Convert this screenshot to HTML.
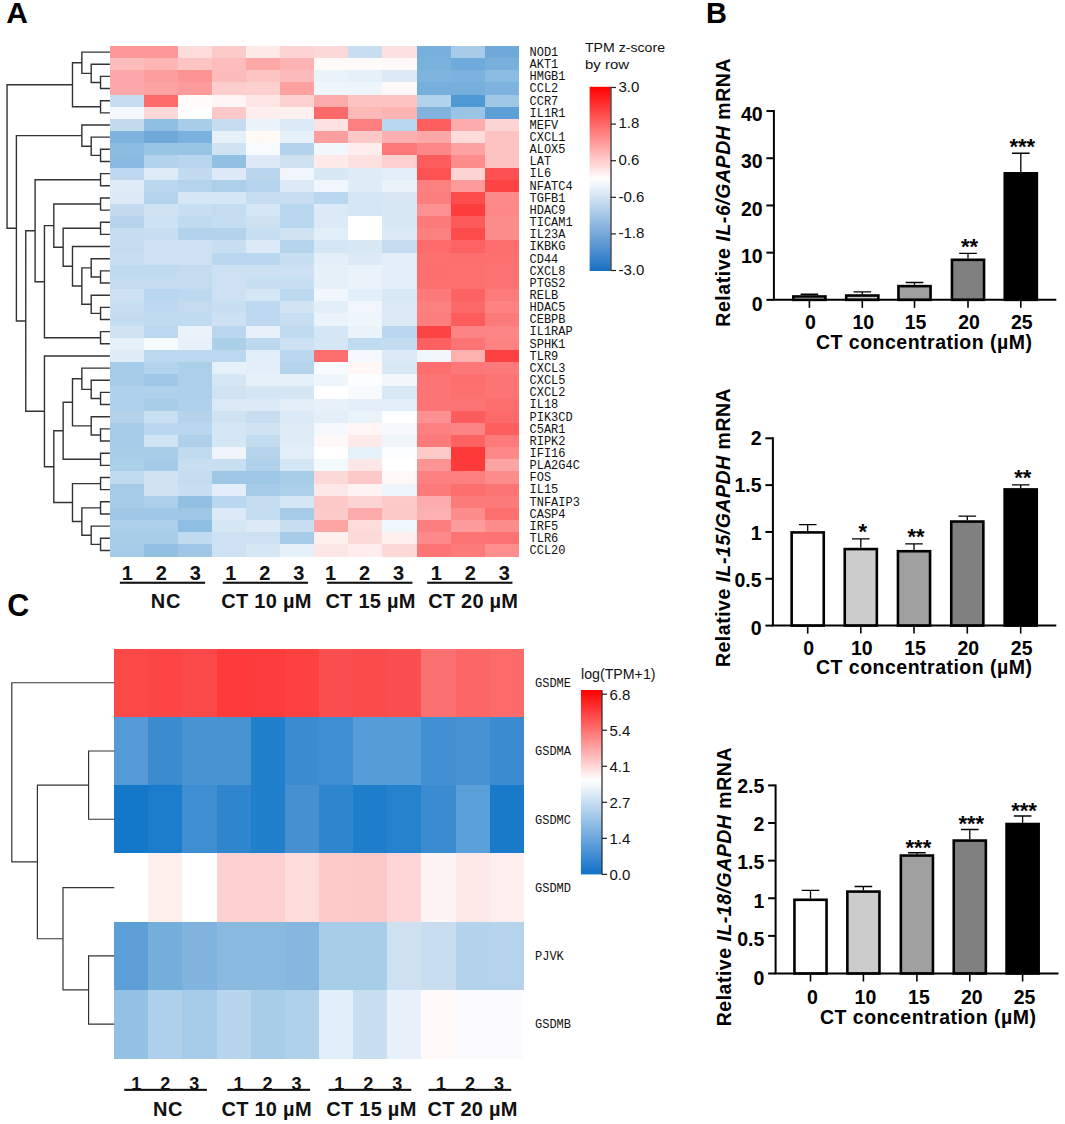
<!DOCTYPE html>
<html><head><meta charset="utf-8"><title>Figure</title>
<style>html,body{margin:0;padding:0;background:#fff;} svg{display:block;}</style></head>
<body><svg width="1065" height="1124" viewBox="0 0 1065 1124">
<rect width="1065" height="1124" fill="#fff"/>
<g shape-rendering="crispEdges"><rect x="109.80" y="46.00" width="34.48" height="12.55" fill="#fe9898"/><rect x="143.88" y="46.00" width="34.48" height="12.55" fill="#fe9898"/><rect x="177.96" y="46.00" width="34.48" height="12.55" fill="#fddcdc"/><rect x="212.04" y="46.00" width="34.48" height="12.55" fill="#fdcaca"/><rect x="246.12" y="46.00" width="34.48" height="12.55" fill="#ffeaea"/><rect x="280.20" y="46.00" width="34.48" height="12.55" fill="#fdd3d3"/><rect x="314.28" y="46.00" width="34.48" height="12.55" fill="#fdd8d8"/><rect x="348.36" y="46.00" width="34.48" height="12.55" fill="#c8def0"/><rect x="382.44" y="46.00" width="34.48" height="12.55" fill="#fde0e0"/><rect x="416.52" y="46.00" width="34.48" height="12.55" fill="#78b0dd"/><rect x="450.60" y="46.00" width="34.48" height="12.55" fill="#a8cce8"/><rect x="484.68" y="46.00" width="34.48" height="12.55" fill="#6ea9da"/><rect x="109.80" y="58.16" width="34.48" height="12.55" fill="#fdbcbc"/><rect x="143.88" y="58.16" width="34.48" height="12.55" fill="#fdb5b5"/><rect x="177.96" y="58.16" width="34.48" height="12.55" fill="#fdc4c4"/><rect x="212.04" y="58.16" width="34.48" height="12.55" fill="#fdbdbd"/><rect x="246.12" y="58.16" width="34.48" height="12.55" fill="#fda7a7"/><rect x="280.20" y="58.16" width="34.48" height="12.55" fill="#fdb3b3"/><rect x="314.28" y="58.16" width="34.48" height="12.55" fill="#fffafa"/><rect x="348.36" y="58.16" width="34.48" height="12.55" fill="#fffafa"/><rect x="382.44" y="58.16" width="34.48" height="12.55" fill="#fff8f8"/><rect x="416.52" y="58.16" width="34.48" height="12.55" fill="#79b1dd"/><rect x="450.60" y="58.16" width="34.48" height="12.55" fill="#6eaadb"/><rect x="484.68" y="58.16" width="34.48" height="12.55" fill="#78afdd"/><rect x="109.80" y="70.31" width="34.48" height="12.55" fill="#fda8a8"/><rect x="143.88" y="70.31" width="34.48" height="12.55" fill="#fd9e9e"/><rect x="177.96" y="70.31" width="34.48" height="12.55" fill="#fd9494"/><rect x="212.04" y="70.31" width="34.48" height="12.55" fill="#fdbcbc"/><rect x="246.12" y="70.31" width="34.48" height="12.55" fill="#fdc4c4"/><rect x="280.20" y="70.31" width="34.48" height="12.55" fill="#fdbaba"/><rect x="314.28" y="70.31" width="34.48" height="12.55" fill="#eaf3fa"/><rect x="348.36" y="70.31" width="34.48" height="12.55" fill="#e6f0f9"/><rect x="382.44" y="70.31" width="34.48" height="12.55" fill="#dbeaf6"/><rect x="416.52" y="70.31" width="34.48" height="12.55" fill="#7fb4df"/><rect x="450.60" y="70.31" width="34.48" height="12.55" fill="#7db2df"/><rect x="484.68" y="70.31" width="34.48" height="12.55" fill="#8bbce2"/><rect x="109.80" y="82.47" width="34.48" height="12.55" fill="#fda8a8"/><rect x="143.88" y="82.47" width="34.48" height="12.55" fill="#fda2a2"/><rect x="177.96" y="82.47" width="34.48" height="12.55" fill="#fd9b9b"/><rect x="212.04" y="82.47" width="34.48" height="12.55" fill="#fdcccc"/><rect x="246.12" y="82.47" width="34.48" height="12.55" fill="#fdd0d0"/><rect x="280.20" y="82.47" width="34.48" height="12.55" fill="#fda0a0"/><rect x="314.28" y="82.47" width="34.48" height="12.55" fill="#eef5fb"/><rect x="348.36" y="82.47" width="34.48" height="12.55" fill="#eef5fb"/><rect x="382.44" y="82.47" width="34.48" height="12.55" fill="#fff8f8"/><rect x="416.52" y="82.47" width="34.48" height="12.55" fill="#76aedc"/><rect x="450.60" y="82.47" width="34.48" height="12.55" fill="#76aedc"/><rect x="484.68" y="82.47" width="34.48" height="12.55" fill="#7fb3df"/><rect x="109.80" y="94.62" width="34.48" height="12.55" fill="#c5ddf0"/><rect x="143.88" y="94.62" width="34.48" height="12.55" fill="#fd6a6a"/><rect x="177.96" y="94.62" width="34.48" height="12.55" fill="#fffbfb"/><rect x="212.04" y="94.62" width="34.48" height="12.55" fill="#fff5f5"/><rect x="246.12" y="94.62" width="34.48" height="12.55" fill="#ffe6e6"/><rect x="280.20" y="94.62" width="34.48" height="12.55" fill="#fdd0d0"/><rect x="314.28" y="94.62" width="34.48" height="12.55" fill="#fdaaaa"/><rect x="348.36" y="94.62" width="34.48" height="12.55" fill="#fdc3c3"/><rect x="382.44" y="94.62" width="34.48" height="12.55" fill="#fdc3c3"/><rect x="416.52" y="94.62" width="34.48" height="12.55" fill="#b3d3ec"/><rect x="450.60" y="94.62" width="34.48" height="12.55" fill="#4e98d4"/><rect x="484.68" y="94.62" width="34.48" height="12.55" fill="#9ec7e6"/><rect x="109.80" y="106.78" width="34.48" height="12.55" fill="#f5f9fd"/><rect x="143.88" y="106.78" width="34.48" height="12.55" fill="#fdd8d8"/><rect x="177.96" y="106.78" width="34.48" height="12.55" fill="#ffffff"/><rect x="212.04" y="106.78" width="34.48" height="12.55" fill="#fdc8c8"/><rect x="246.12" y="106.78" width="34.48" height="12.55" fill="#ffeeee"/><rect x="280.20" y="106.78" width="34.48" height="12.55" fill="#fff0f0"/><rect x="314.28" y="106.78" width="34.48" height="12.55" fill="#fd6868"/><rect x="348.36" y="106.78" width="34.48" height="12.55" fill="#fdb8b8"/><rect x="382.44" y="106.78" width="34.48" height="12.55" fill="#fdb3b3"/><rect x="416.52" y="106.78" width="34.48" height="12.55" fill="#80b4df"/><rect x="450.60" y="106.78" width="34.48" height="12.55" fill="#99c4e5"/><rect x="484.68" y="106.78" width="34.48" height="12.55" fill="#5c9fd7"/><rect x="109.80" y="118.93" width="34.48" height="12.55" fill="#c2dbef"/><rect x="143.88" y="118.93" width="34.48" height="12.55" fill="#8ebfe3"/><rect x="177.96" y="118.93" width="34.48" height="12.55" fill="#a8cde8"/><rect x="212.04" y="118.93" width="34.48" height="12.55" fill="#c5dcf0"/><rect x="246.12" y="118.93" width="34.48" height="12.55" fill="#eaf3fa"/><rect x="280.20" y="118.93" width="34.48" height="12.55" fill="#dbeaf6"/><rect x="314.28" y="118.93" width="34.48" height="12.55" fill="#fee2e2"/><rect x="348.36" y="118.93" width="34.48" height="12.55" fill="#fd8080"/><rect x="382.44" y="118.93" width="34.48" height="12.55" fill="#b8d8ee"/><rect x="416.52" y="118.93" width="34.48" height="12.55" fill="#fd5e5e"/><rect x="450.60" y="118.93" width="34.48" height="12.55" fill="#fdacac"/><rect x="484.68" y="118.93" width="34.48" height="12.55" fill="#fdd4d4"/><rect x="109.80" y="131.08" width="34.48" height="12.55" fill="#7fb3df"/><rect x="143.88" y="131.08" width="34.48" height="12.55" fill="#6ea9da"/><rect x="177.96" y="131.08" width="34.48" height="12.55" fill="#7bb1de"/><rect x="212.04" y="131.08" width="34.48" height="12.55" fill="#e6f0f8"/><rect x="246.12" y="131.08" width="34.48" height="12.55" fill="#fffaf5"/><rect x="280.20" y="131.08" width="34.48" height="12.55" fill="#e6f1f9"/><rect x="314.28" y="131.08" width="34.48" height="12.55" fill="#fd9e9e"/><rect x="348.36" y="131.08" width="34.48" height="12.55" fill="#fdc8c8"/><rect x="382.44" y="131.08" width="34.48" height="12.55" fill="#fdb0b0"/><rect x="416.52" y="131.08" width="34.48" height="12.55" fill="#fda8a8"/><rect x="450.60" y="131.08" width="34.48" height="12.55" fill="#fedcdc"/><rect x="484.68" y="131.08" width="34.48" height="12.55" fill="#fdc3c3"/><rect x="109.80" y="143.24" width="34.48" height="12.55" fill="#8bbce2"/><rect x="143.88" y="143.24" width="34.48" height="12.55" fill="#99c5e5"/><rect x="177.96" y="143.24" width="34.48" height="12.55" fill="#99c5e5"/><rect x="212.04" y="143.24" width="34.48" height="12.55" fill="#d0e3f2"/><rect x="246.12" y="143.24" width="34.48" height="12.55" fill="#f8fbfe"/><rect x="280.20" y="143.24" width="34.48" height="12.55" fill="#b3d3ec"/><rect x="314.28" y="143.24" width="34.48" height="12.55" fill="#f2f7fc"/><rect x="348.36" y="143.24" width="34.48" height="12.55" fill="#ffeded"/><rect x="382.44" y="143.24" width="34.48" height="12.55" fill="#fd7878"/><rect x="416.52" y="143.24" width="34.48" height="12.55" fill="#fd8888"/><rect x="450.60" y="143.24" width="34.48" height="12.55" fill="#fda2a2"/><rect x="484.68" y="143.24" width="34.48" height="12.55" fill="#fdc3c3"/><rect x="109.80" y="155.39" width="34.48" height="12.55" fill="#88bbe1"/><rect x="143.88" y="155.39" width="34.48" height="12.55" fill="#b3d3ec"/><rect x="177.96" y="155.39" width="34.48" height="12.55" fill="#b8d6ed"/><rect x="212.04" y="155.39" width="34.48" height="12.55" fill="#92c0e3"/><rect x="246.12" y="155.39" width="34.48" height="12.55" fill="#dde9f6"/><rect x="280.20" y="155.39" width="34.48" height="12.55" fill="#cde1f1"/><rect x="314.28" y="155.39" width="34.48" height="12.55" fill="#ffeaea"/><rect x="348.36" y="155.39" width="34.48" height="12.55" fill="#fde0e0"/><rect x="382.44" y="155.39" width="34.48" height="12.55" fill="#fdcfcf"/><rect x="416.52" y="155.39" width="34.48" height="12.55" fill="#fd5c5c"/><rect x="450.60" y="155.39" width="34.48" height="12.55" fill="#fd8c8c"/><rect x="484.68" y="155.39" width="34.48" height="12.55" fill="#fdc2c2"/><rect x="109.80" y="167.55" width="34.48" height="12.55" fill="#bed9ef"/><rect x="143.88" y="167.55" width="34.48" height="12.55" fill="#deebf6"/><rect x="177.96" y="167.55" width="34.48" height="12.55" fill="#c3dbf0"/><rect x="212.04" y="167.55" width="34.48" height="12.55" fill="#dde9f6"/><rect x="246.12" y="167.55" width="34.48" height="12.55" fill="#b9d6ed"/><rect x="280.20" y="167.55" width="34.48" height="12.55" fill="#f0f6fb"/><rect x="314.28" y="167.55" width="34.48" height="12.55" fill="#d9e8f5"/><rect x="348.36" y="167.55" width="34.48" height="12.55" fill="#dfecf7"/><rect x="382.44" y="167.55" width="34.48" height="12.55" fill="#e3eef8"/><rect x="416.52" y="167.55" width="34.48" height="12.55" fill="#fd5252"/><rect x="450.60" y="167.55" width="34.48" height="12.55" fill="#fdd3d3"/><rect x="484.68" y="167.55" width="34.48" height="12.55" fill="#fd5050"/><rect x="109.80" y="179.70" width="34.48" height="12.55" fill="#dfecf7"/><rect x="143.88" y="179.70" width="34.48" height="12.55" fill="#b9d7ee"/><rect x="177.96" y="179.70" width="34.48" height="12.55" fill="#b3d4ec"/><rect x="212.04" y="179.70" width="34.48" height="12.55" fill="#acd0ea"/><rect x="246.12" y="179.70" width="34.48" height="12.55" fill="#b3d4ec"/><rect x="280.20" y="179.70" width="34.48" height="12.55" fill="#dde9f6"/><rect x="314.28" y="179.70" width="34.48" height="12.55" fill="#f0f6fc"/><rect x="348.36" y="179.70" width="34.48" height="12.55" fill="#dfecf7"/><rect x="382.44" y="179.70" width="34.48" height="12.55" fill="#eaf3fa"/><rect x="416.52" y="179.70" width="34.48" height="12.55" fill="#fd8080"/><rect x="450.60" y="179.70" width="34.48" height="12.55" fill="#fd9a9a"/><rect x="484.68" y="179.70" width="34.48" height="12.55" fill="#fd4444"/><rect x="109.80" y="191.86" width="34.48" height="12.55" fill="#dce9f6"/><rect x="143.88" y="191.86" width="34.48" height="12.55" fill="#b3d4ec"/><rect x="177.96" y="191.86" width="34.48" height="12.55" fill="#d5e6f4"/><rect x="212.04" y="191.86" width="34.48" height="12.55" fill="#d5e6f4"/><rect x="246.12" y="191.86" width="34.48" height="12.55" fill="#c8def0"/><rect x="280.20" y="191.86" width="34.48" height="12.55" fill="#c8def0"/><rect x="314.28" y="191.86" width="34.48" height="12.55" fill="#b9d7ee"/><rect x="348.36" y="191.86" width="34.48" height="12.55" fill="#d5e6f4"/><rect x="382.44" y="191.86" width="34.48" height="12.55" fill="#d9e7f5"/><rect x="416.52" y="191.86" width="34.48" height="12.55" fill="#fd7e7e"/><rect x="450.60" y="191.86" width="34.48" height="12.55" fill="#fd4c4c"/><rect x="484.68" y="191.86" width="34.48" height="12.55" fill="#fd8a8a"/><rect x="109.80" y="204.01" width="34.48" height="12.55" fill="#c3dbef"/><rect x="143.88" y="204.01" width="34.48" height="12.55" fill="#d0e3f2"/><rect x="177.96" y="204.01" width="34.48" height="12.55" fill="#c8def1"/><rect x="212.04" y="204.01" width="34.48" height="12.55" fill="#c3dcf0"/><rect x="246.12" y="204.01" width="34.48" height="12.55" fill="#d5e6f4"/><rect x="280.20" y="204.01" width="34.48" height="12.55" fill="#b9d7ee"/><rect x="314.28" y="204.01" width="34.48" height="12.55" fill="#dce9f6"/><rect x="348.36" y="204.01" width="34.48" height="12.55" fill="#d5e6f4"/><rect x="382.44" y="204.01" width="34.48" height="12.55" fill="#d9e8f5"/><rect x="416.52" y="204.01" width="34.48" height="12.55" fill="#fd9090"/><rect x="450.60" y="204.01" width="34.48" height="12.55" fill="#fd3c3c"/><rect x="484.68" y="204.01" width="34.48" height="12.55" fill="#fd8888"/><rect x="109.80" y="216.17" width="34.48" height="12.55" fill="#b5d4ec"/><rect x="143.88" y="216.17" width="34.48" height="12.55" fill="#cde2f2"/><rect x="177.96" y="216.17" width="34.48" height="12.55" fill="#c0daef"/><rect x="212.04" y="216.17" width="34.48" height="12.55" fill="#c5ddf0"/><rect x="246.12" y="216.17" width="34.48" height="12.55" fill="#cde1f1"/><rect x="280.20" y="216.17" width="34.48" height="12.55" fill="#b9d7ee"/><rect x="314.28" y="216.17" width="34.48" height="12.55" fill="#dce9f6"/><rect x="348.36" y="216.17" width="34.48" height="12.55" fill="#ffffff"/><rect x="382.44" y="216.17" width="34.48" height="12.55" fill="#d9e8f5"/><rect x="416.52" y="216.17" width="34.48" height="12.55" fill="#fd7a7a"/><rect x="450.60" y="216.17" width="34.48" height="12.55" fill="#fd5a5a"/><rect x="484.68" y="216.17" width="34.48" height="12.55" fill="#fd8c8c"/><rect x="109.80" y="228.32" width="34.48" height="12.55" fill="#c5ddf0"/><rect x="143.88" y="228.32" width="34.48" height="12.55" fill="#c8dff1"/><rect x="177.96" y="228.32" width="34.48" height="12.55" fill="#b3d3ec"/><rect x="212.04" y="228.32" width="34.48" height="12.55" fill="#b3d3ec"/><rect x="246.12" y="228.32" width="34.48" height="12.55" fill="#c8def1"/><rect x="280.20" y="228.32" width="34.48" height="12.55" fill="#d0e3f2"/><rect x="314.28" y="228.32" width="34.48" height="12.55" fill="#e2eef8"/><rect x="348.36" y="228.32" width="34.48" height="12.55" fill="#ffffff"/><rect x="382.44" y="228.32" width="34.48" height="12.55" fill="#dce9f6"/><rect x="416.52" y="228.32" width="34.48" height="12.55" fill="#fd8080"/><rect x="450.60" y="228.32" width="34.48" height="12.55" fill="#fd4c4c"/><rect x="484.68" y="228.32" width="34.48" height="12.55" fill="#fd8c8c"/><rect x="109.80" y="240.48" width="34.48" height="12.55" fill="#c5ddf0"/><rect x="143.88" y="240.48" width="34.48" height="12.55" fill="#cde1f2"/><rect x="177.96" y="240.48" width="34.48" height="12.55" fill="#cde1f2"/><rect x="212.04" y="240.48" width="34.48" height="12.55" fill="#c8def1"/><rect x="246.12" y="240.48" width="34.48" height="12.55" fill="#dce9f6"/><rect x="280.20" y="240.48" width="34.48" height="12.55" fill="#b5d5ed"/><rect x="314.28" y="240.48" width="34.48" height="12.55" fill="#d5e6f4"/><rect x="348.36" y="240.48" width="34.48" height="12.55" fill="#d9e8f5"/><rect x="382.44" y="240.48" width="34.48" height="12.55" fill="#c3dcf0"/><rect x="416.52" y="240.48" width="34.48" height="12.55" fill="#fd6b6b"/><rect x="450.60" y="240.48" width="34.48" height="12.55" fill="#fd6262"/><rect x="484.68" y="240.48" width="34.48" height="12.55" fill="#fd6e6e"/><rect x="109.80" y="252.63" width="34.48" height="12.55" fill="#c8def1"/><rect x="143.88" y="252.63" width="34.48" height="12.55" fill="#cde1f2"/><rect x="177.96" y="252.63" width="34.48" height="12.55" fill="#cde1f2"/><rect x="212.04" y="252.63" width="34.48" height="12.55" fill="#b9d7ee"/><rect x="246.12" y="252.63" width="34.48" height="12.55" fill="#b9d7ee"/><rect x="280.20" y="252.63" width="34.48" height="12.55" fill="#c8def1"/><rect x="314.28" y="252.63" width="34.48" height="12.55" fill="#e3eef8"/><rect x="348.36" y="252.63" width="34.48" height="12.55" fill="#dce9f6"/><rect x="382.44" y="252.63" width="34.48" height="12.55" fill="#e3eef8"/><rect x="416.52" y="252.63" width="34.48" height="12.55" fill="#fd7070"/><rect x="450.60" y="252.63" width="34.48" height="12.55" fill="#fd6e6e"/><rect x="484.68" y="252.63" width="34.48" height="12.55" fill="#fd7070"/><rect x="109.80" y="264.79" width="34.48" height="12.55" fill="#c0daef"/><rect x="143.88" y="264.79" width="34.48" height="12.55" fill="#c0daef"/><rect x="177.96" y="264.79" width="34.48" height="12.55" fill="#c3dcf0"/><rect x="212.04" y="264.79" width="34.48" height="12.55" fill="#cde1f2"/><rect x="246.12" y="264.79" width="34.48" height="12.55" fill="#cde1f2"/><rect x="280.20" y="264.79" width="34.48" height="12.55" fill="#cde1f2"/><rect x="314.28" y="264.79" width="34.48" height="12.55" fill="#e6f0f9"/><rect x="348.36" y="264.79" width="34.48" height="12.55" fill="#eaf3fa"/><rect x="382.44" y="264.79" width="34.48" height="12.55" fill="#e3eef8"/><rect x="416.52" y="264.79" width="34.48" height="12.55" fill="#fd6e6e"/><rect x="450.60" y="264.79" width="34.48" height="12.55" fill="#fd7070"/><rect x="484.68" y="264.79" width="34.48" height="12.55" fill="#fd7272"/><rect x="109.80" y="276.94" width="34.48" height="12.55" fill="#c3dcf0"/><rect x="143.88" y="276.94" width="34.48" height="12.55" fill="#c3dcf0"/><rect x="177.96" y="276.94" width="34.48" height="12.55" fill="#c3dcf0"/><rect x="212.04" y="276.94" width="34.48" height="12.55" fill="#cde1f2"/><rect x="246.12" y="276.94" width="34.48" height="12.55" fill="#c8dff1"/><rect x="280.20" y="276.94" width="34.48" height="12.55" fill="#c8def1"/><rect x="314.28" y="276.94" width="34.48" height="12.55" fill="#e6f0f9"/><rect x="348.36" y="276.94" width="34.48" height="12.55" fill="#eaf3fa"/><rect x="382.44" y="276.94" width="34.48" height="12.55" fill="#e3eef8"/><rect x="416.52" y="276.94" width="34.48" height="12.55" fill="#fd7070"/><rect x="450.60" y="276.94" width="34.48" height="12.55" fill="#fd7070"/><rect x="484.68" y="276.94" width="34.48" height="12.55" fill="#fd7373"/><rect x="109.80" y="289.10" width="34.48" height="12.55" fill="#cde1f2"/><rect x="143.88" y="289.10" width="34.48" height="12.55" fill="#b9d7ee"/><rect x="177.96" y="289.10" width="34.48" height="12.55" fill="#bdd9ef"/><rect x="212.04" y="289.10" width="34.48" height="12.55" fill="#cde1f2"/><rect x="246.12" y="289.10" width="34.48" height="12.55" fill="#d5e6f4"/><rect x="280.20" y="289.10" width="34.48" height="12.55" fill="#bdd9ef"/><rect x="314.28" y="289.10" width="34.48" height="12.55" fill="#f0f6fc"/><rect x="348.36" y="289.10" width="34.48" height="12.55" fill="#e2eef8"/><rect x="382.44" y="289.10" width="34.48" height="12.55" fill="#d9e8f5"/><rect x="416.52" y="289.10" width="34.48" height="12.55" fill="#fd7a7a"/><rect x="450.60" y="289.10" width="34.48" height="12.55" fill="#fd6262"/><rect x="484.68" y="289.10" width="34.48" height="12.55" fill="#fd7a7a"/><rect x="109.80" y="301.25" width="34.48" height="12.55" fill="#c8def1"/><rect x="143.88" y="301.25" width="34.48" height="12.55" fill="#bed9ef"/><rect x="177.96" y="301.25" width="34.48" height="12.55" fill="#c3dcf0"/><rect x="212.04" y="301.25" width="34.48" height="12.55" fill="#c8def1"/><rect x="246.12" y="301.25" width="34.48" height="12.55" fill="#bed9ef"/><rect x="280.20" y="301.25" width="34.48" height="12.55" fill="#d2e4f3"/><rect x="314.28" y="301.25" width="34.48" height="12.55" fill="#e3eef8"/><rect x="348.36" y="301.25" width="34.48" height="12.55" fill="#f0f6fc"/><rect x="382.44" y="301.25" width="34.48" height="12.55" fill="#dce9f6"/><rect x="416.52" y="301.25" width="34.48" height="12.55" fill="#fd8080"/><rect x="450.60" y="301.25" width="34.48" height="12.55" fill="#fd6868"/><rect x="484.68" y="301.25" width="34.48" height="12.55" fill="#fd8282"/><rect x="109.80" y="313.41" width="34.48" height="12.55" fill="#c3dcf0"/><rect x="143.88" y="313.41" width="34.48" height="12.55" fill="#c0daef"/><rect x="177.96" y="313.41" width="34.48" height="12.55" fill="#c0daef"/><rect x="212.04" y="313.41" width="34.48" height="12.55" fill="#cde1f2"/><rect x="246.12" y="313.41" width="34.48" height="12.55" fill="#bed9ef"/><rect x="280.20" y="313.41" width="34.48" height="12.55" fill="#c8def1"/><rect x="314.28" y="313.41" width="34.48" height="12.55" fill="#eaf2fa"/><rect x="348.36" y="313.41" width="34.48" height="12.55" fill="#eef5fb"/><rect x="382.44" y="313.41" width="34.48" height="12.55" fill="#dce9f6"/><rect x="416.52" y="313.41" width="34.48" height="12.55" fill="#fd7e7e"/><rect x="450.60" y="313.41" width="34.48" height="12.55" fill="#fd5c5c"/><rect x="484.68" y="313.41" width="34.48" height="12.55" fill="#fd7a7a"/><rect x="109.80" y="325.56" width="34.48" height="12.55" fill="#d0e3f2"/><rect x="143.88" y="325.56" width="34.48" height="12.55" fill="#bcd8ee"/><rect x="177.96" y="325.56" width="34.48" height="12.55" fill="#eaf2fa"/><rect x="212.04" y="325.56" width="34.48" height="12.55" fill="#b9d7ee"/><rect x="246.12" y="325.56" width="34.48" height="12.55" fill="#e8f0f9"/><rect x="280.20" y="325.56" width="34.48" height="12.55" fill="#c0daef"/><rect x="314.28" y="325.56" width="34.48" height="12.55" fill="#d5e6f4"/><rect x="348.36" y="325.56" width="34.48" height="12.55" fill="#eaf3fa"/><rect x="382.44" y="325.56" width="34.48" height="12.55" fill="#b9d7ee"/><rect x="416.52" y="325.56" width="34.48" height="12.55" fill="#fd4444"/><rect x="450.60" y="325.56" width="34.48" height="12.55" fill="#fd8484"/><rect x="484.68" y="325.56" width="34.48" height="12.55" fill="#fd8585"/><rect x="109.80" y="337.72" width="34.48" height="12.55" fill="#e6f0f9"/><rect x="143.88" y="337.72" width="34.48" height="12.55" fill="#f8fbfe"/><rect x="177.96" y="337.72" width="34.48" height="12.55" fill="#e8f1fa"/><rect x="212.04" y="337.72" width="34.48" height="12.55" fill="#acd0ea"/><rect x="246.12" y="337.72" width="34.48" height="12.55" fill="#bcd8ee"/><rect x="280.20" y="337.72" width="34.48" height="12.55" fill="#cde1f2"/><rect x="314.28" y="337.72" width="34.48" height="12.55" fill="#d5e6f4"/><rect x="348.36" y="337.72" width="34.48" height="12.55" fill="#c0daef"/><rect x="382.44" y="337.72" width="34.48" height="12.55" fill="#c3dcf0"/><rect x="416.52" y="337.72" width="34.48" height="12.55" fill="#fd6060"/><rect x="450.60" y="337.72" width="34.48" height="12.55" fill="#fd7474"/><rect x="484.68" y="337.72" width="34.48" height="12.55" fill="#fd8282"/><rect x="109.80" y="349.88" width="34.48" height="12.55" fill="#dfecf7"/><rect x="143.88" y="349.88" width="34.48" height="12.55" fill="#bcd8ee"/><rect x="177.96" y="349.88" width="34.48" height="12.55" fill="#bcd8ee"/><rect x="212.04" y="349.88" width="34.48" height="12.55" fill="#bcd8ee"/><rect x="246.12" y="349.88" width="34.48" height="12.55" fill="#e2eef8"/><rect x="280.20" y="349.88" width="34.48" height="12.55" fill="#b9d7ee"/><rect x="314.28" y="349.88" width="34.48" height="12.55" fill="#fd6e6e"/><rect x="348.36" y="349.88" width="34.48" height="12.55" fill="#f5f9fd"/><rect x="382.44" y="349.88" width="34.48" height="12.55" fill="#dce9f6"/><rect x="416.52" y="349.88" width="34.48" height="12.55" fill="#f2f7fc"/><rect x="450.60" y="349.88" width="34.48" height="12.55" fill="#fdb0b0"/><rect x="484.68" y="349.88" width="34.48" height="12.55" fill="#fd4040"/><rect x="109.80" y="362.03" width="34.48" height="12.55" fill="#a5cbe8"/><rect x="143.88" y="362.03" width="34.48" height="12.55" fill="#b3d4ec"/><rect x="177.96" y="362.03" width="34.48" height="12.55" fill="#acd0ea"/><rect x="212.04" y="362.03" width="34.48" height="12.55" fill="#e6f0f9"/><rect x="246.12" y="362.03" width="34.48" height="12.55" fill="#e3eef8"/><rect x="280.20" y="362.03" width="34.48" height="12.55" fill="#b3d4ec"/><rect x="314.28" y="362.03" width="34.48" height="12.55" fill="#f8fbfe"/><rect x="348.36" y="362.03" width="34.48" height="12.55" fill="#fff6f5"/><rect x="382.44" y="362.03" width="34.48" height="12.55" fill="#d9e8f5"/><rect x="416.52" y="362.03" width="34.48" height="12.55" fill="#fd6e6e"/><rect x="450.60" y="362.03" width="34.48" height="12.55" fill="#fd7878"/><rect x="484.68" y="362.03" width="34.48" height="12.55" fill="#fd7a7a"/><rect x="109.80" y="374.19" width="34.48" height="12.55" fill="#a5cbe8"/><rect x="143.88" y="374.19" width="34.48" height="12.55" fill="#a0c7e6"/><rect x="177.96" y="374.19" width="34.48" height="12.55" fill="#acd0ea"/><rect x="212.04" y="374.19" width="34.48" height="12.55" fill="#d5e6f4"/><rect x="246.12" y="374.19" width="34.48" height="12.55" fill="#e6f0f9"/><rect x="280.20" y="374.19" width="34.48" height="12.55" fill="#e6f0f9"/><rect x="314.28" y="374.19" width="34.48" height="12.55" fill="#eef5fb"/><rect x="348.36" y="374.19" width="34.48" height="12.55" fill="#fcfdff"/><rect x="382.44" y="374.19" width="34.48" height="12.55" fill="#f2f7fc"/><rect x="416.52" y="374.19" width="34.48" height="12.55" fill="#fd7474"/><rect x="450.60" y="374.19" width="34.48" height="12.55" fill="#fd6e6e"/><rect x="484.68" y="374.19" width="34.48" height="12.55" fill="#fd7474"/><rect x="109.80" y="386.34" width="34.48" height="12.55" fill="#b0d1eb"/><rect x="143.88" y="386.34" width="34.48" height="12.55" fill="#b0d1eb"/><rect x="177.96" y="386.34" width="34.48" height="12.55" fill="#afd0eb"/><rect x="212.04" y="386.34" width="34.48" height="12.55" fill="#d0e3f2"/><rect x="246.12" y="386.34" width="34.48" height="12.55" fill="#d5e6f4"/><rect x="280.20" y="386.34" width="34.48" height="12.55" fill="#d5e6f4"/><rect x="314.28" y="386.34" width="34.48" height="12.55" fill="#ffffff"/><rect x="348.36" y="386.34" width="34.48" height="12.55" fill="#f8fbfe"/><rect x="382.44" y="386.34" width="34.48" height="12.55" fill="#d9e8f5"/><rect x="416.52" y="386.34" width="34.48" height="12.55" fill="#fd7474"/><rect x="450.60" y="386.34" width="34.48" height="12.55" fill="#fd7070"/><rect x="484.68" y="386.34" width="34.48" height="12.55" fill="#fd7474"/><rect x="109.80" y="398.50" width="34.48" height="12.55" fill="#b0d1eb"/><rect x="143.88" y="398.50" width="34.48" height="12.55" fill="#a8cde9"/><rect x="177.96" y="398.50" width="34.48" height="12.55" fill="#b0d1eb"/><rect x="212.04" y="398.50" width="34.48" height="12.55" fill="#dce9f6"/><rect x="246.12" y="398.50" width="34.48" height="12.55" fill="#dce9f6"/><rect x="280.20" y="398.50" width="34.48" height="12.55" fill="#e3eef8"/><rect x="314.28" y="398.50" width="34.48" height="12.55" fill="#e8f1fa"/><rect x="348.36" y="398.50" width="34.48" height="12.55" fill="#e3eef8"/><rect x="382.44" y="398.50" width="34.48" height="12.55" fill="#e3eef8"/><rect x="416.52" y="398.50" width="34.48" height="12.55" fill="#fd7474"/><rect x="450.60" y="398.50" width="34.48" height="12.55" fill="#fd7474"/><rect x="484.68" y="398.50" width="34.48" height="12.55" fill="#fd6e6e"/><rect x="109.80" y="410.65" width="34.48" height="12.55" fill="#b5d4ec"/><rect x="143.88" y="410.65" width="34.48" height="12.55" fill="#c8def1"/><rect x="177.96" y="410.65" width="34.48" height="12.55" fill="#b5d4ec"/><rect x="212.04" y="410.65" width="34.48" height="12.55" fill="#d0e3f2"/><rect x="246.12" y="410.65" width="34.48" height="12.55" fill="#c8def0"/><rect x="280.20" y="410.65" width="34.48" height="12.55" fill="#dce9f6"/><rect x="314.28" y="410.65" width="34.48" height="12.55" fill="#e3eef8"/><rect x="348.36" y="410.65" width="34.48" height="12.55" fill="#eaf3fa"/><rect x="382.44" y="410.65" width="34.48" height="12.55" fill="#ffffff"/><rect x="416.52" y="410.65" width="34.48" height="12.55" fill="#fd9090"/><rect x="450.60" y="410.65" width="34.48" height="12.55" fill="#fd5c5c"/><rect x="484.68" y="410.65" width="34.48" height="12.55" fill="#fd6a6a"/><rect x="109.80" y="422.81" width="34.48" height="12.55" fill="#a5cbe8"/><rect x="143.88" y="422.81" width="34.48" height="12.55" fill="#b9d7ee"/><rect x="177.96" y="422.81" width="34.48" height="12.55" fill="#b9d7ee"/><rect x="212.04" y="422.81" width="34.48" height="12.55" fill="#d5e6f4"/><rect x="246.12" y="422.81" width="34.48" height="12.55" fill="#d0e3f2"/><rect x="280.20" y="422.81" width="34.48" height="12.55" fill="#dfecf7"/><rect x="314.28" y="422.81" width="34.48" height="12.55" fill="#f5f9fd"/><rect x="348.36" y="422.81" width="34.48" height="12.55" fill="#fff6f5"/><rect x="382.44" y="422.81" width="34.48" height="12.55" fill="#f5f9fd"/><rect x="416.52" y="422.81" width="34.48" height="12.55" fill="#fd8080"/><rect x="450.60" y="422.81" width="34.48" height="12.55" fill="#fd8484"/><rect x="484.68" y="422.81" width="34.48" height="12.55" fill="#fd5e5e"/><rect x="109.80" y="434.96" width="34.48" height="12.55" fill="#a5cbe8"/><rect x="143.88" y="434.96" width="34.48" height="12.55" fill="#d0e3f2"/><rect x="177.96" y="434.96" width="34.48" height="12.55" fill="#afd0eb"/><rect x="212.04" y="434.96" width="34.48" height="12.55" fill="#d5e6f4"/><rect x="246.12" y="434.96" width="34.48" height="12.55" fill="#c3dcf0"/><rect x="280.20" y="434.96" width="34.48" height="12.55" fill="#dfecf7"/><rect x="314.28" y="434.96" width="34.48" height="12.55" fill="#fff8f8"/><rect x="348.36" y="434.96" width="34.48" height="12.55" fill="#ffeaea"/><rect x="382.44" y="434.96" width="34.48" height="12.55" fill="#eef5fb"/><rect x="416.52" y="434.96" width="34.48" height="12.55" fill="#fd7a7a"/><rect x="450.60" y="434.96" width="34.48" height="12.55" fill="#fd6262"/><rect x="484.68" y="434.96" width="34.48" height="12.55" fill="#fd7a7a"/><rect x="109.80" y="447.11" width="34.48" height="12.55" fill="#a8cde8"/><rect x="143.88" y="447.11" width="34.48" height="12.55" fill="#a8cde8"/><rect x="177.96" y="447.11" width="34.48" height="12.55" fill="#c0daef"/><rect x="212.04" y="447.11" width="34.48" height="12.55" fill="#eef4fa"/><rect x="246.12" y="447.11" width="34.48" height="12.55" fill="#b5d4ec"/><rect x="280.20" y="447.11" width="34.48" height="12.55" fill="#e3eef8"/><rect x="314.28" y="447.11" width="34.48" height="12.55" fill="#ffffff"/><rect x="348.36" y="447.11" width="34.48" height="12.55" fill="#e6f2fa"/><rect x="382.44" y="447.11" width="34.48" height="12.55" fill="#fbfdff"/><rect x="416.52" y="447.11" width="34.48" height="12.55" fill="#fdcaca"/><rect x="450.60" y="447.11" width="34.48" height="12.55" fill="#fd3838"/><rect x="484.68" y="447.11" width="34.48" height="12.55" fill="#fd8888"/><rect x="109.80" y="459.27" width="34.48" height="12.55" fill="#acd0ea"/><rect x="143.88" y="459.27" width="34.48" height="12.55" fill="#a5cbe8"/><rect x="177.96" y="459.27" width="34.48" height="12.55" fill="#c8def1"/><rect x="212.04" y="459.27" width="34.48" height="12.55" fill="#c8def1"/><rect x="246.12" y="459.27" width="34.48" height="12.55" fill="#b0d1eb"/><rect x="280.20" y="459.27" width="34.48" height="12.55" fill="#d5e6f4"/><rect x="314.28" y="459.27" width="34.48" height="12.55" fill="#f2f9fc"/><rect x="348.36" y="459.27" width="34.48" height="12.55" fill="#fde6e6"/><rect x="382.44" y="459.27" width="34.48" height="12.55" fill="#ffffff"/><rect x="416.52" y="459.27" width="34.48" height="12.55" fill="#fd9494"/><rect x="450.60" y="459.27" width="34.48" height="12.55" fill="#fd3a3a"/><rect x="484.68" y="459.27" width="34.48" height="12.55" fill="#fda4a4"/><rect x="109.80" y="471.42" width="34.48" height="12.55" fill="#c0daef"/><rect x="143.88" y="471.42" width="34.48" height="12.55" fill="#d0e3f2"/><rect x="177.96" y="471.42" width="34.48" height="12.55" fill="#c3dcf0"/><rect x="212.04" y="471.42" width="34.48" height="12.55" fill="#9ec7e6"/><rect x="246.12" y="471.42" width="34.48" height="12.55" fill="#9ec7e6"/><rect x="280.20" y="471.42" width="34.48" height="12.55" fill="#a8cde8"/><rect x="314.28" y="471.42" width="34.48" height="12.55" fill="#fdd8d8"/><rect x="348.36" y="471.42" width="34.48" height="12.55" fill="#fdc8c8"/><rect x="382.44" y="471.42" width="34.48" height="12.55" fill="#fff8f8"/><rect x="416.52" y="471.42" width="34.48" height="12.55" fill="#fd8080"/><rect x="450.60" y="471.42" width="34.48" height="12.55" fill="#fd8080"/><rect x="484.68" y="471.42" width="34.48" height="12.55" fill="#fd8c8c"/><rect x="109.80" y="483.58" width="34.48" height="12.55" fill="#a5cbe8"/><rect x="143.88" y="483.58" width="34.48" height="12.55" fill="#d0e3f2"/><rect x="177.96" y="483.58" width="34.48" height="12.55" fill="#c8def1"/><rect x="212.04" y="483.58" width="34.48" height="12.55" fill="#e3eef8"/><rect x="246.12" y="483.58" width="34.48" height="12.55" fill="#a5cbe8"/><rect x="280.20" y="483.58" width="34.48" height="12.55" fill="#acd0ea"/><rect x="314.28" y="483.58" width="34.48" height="12.55" fill="#fde8e8"/><rect x="348.36" y="483.58" width="34.48" height="12.55" fill="#fff2f2"/><rect x="382.44" y="483.58" width="34.48" height="12.55" fill="#eef6fc"/><rect x="416.52" y="483.58" width="34.48" height="12.55" fill="#fd7a7a"/><rect x="450.60" y="483.58" width="34.48" height="12.55" fill="#fd6e6e"/><rect x="484.68" y="483.58" width="34.48" height="12.55" fill="#fd7474"/><rect x="109.80" y="495.73" width="34.48" height="12.55" fill="#a5cbe8"/><rect x="143.88" y="495.73" width="34.48" height="12.55" fill="#acd0ea"/><rect x="177.96" y="495.73" width="34.48" height="12.55" fill="#92c0e3"/><rect x="212.04" y="495.73" width="34.48" height="12.55" fill="#b9d7ee"/><rect x="246.12" y="495.73" width="34.48" height="12.55" fill="#c3dcf0"/><rect x="280.20" y="495.73" width="34.48" height="12.55" fill="#d5e6f4"/><rect x="314.28" y="495.73" width="34.48" height="12.55" fill="#fdc8c8"/><rect x="348.36" y="495.73" width="34.48" height="12.55" fill="#fdd4d4"/><rect x="382.44" y="495.73" width="34.48" height="12.55" fill="#fdcaca"/><rect x="416.52" y="495.73" width="34.48" height="12.55" fill="#fdacac"/><rect x="450.60" y="495.73" width="34.48" height="12.55" fill="#fd7a7a"/><rect x="484.68" y="495.73" width="34.48" height="12.55" fill="#fd7a7a"/><rect x="109.80" y="507.89" width="34.48" height="12.55" fill="#a0c8e6"/><rect x="143.88" y="507.89" width="34.48" height="12.55" fill="#a0c8e6"/><rect x="177.96" y="507.89" width="34.48" height="12.55" fill="#9ec7e6"/><rect x="212.04" y="507.89" width="34.48" height="12.55" fill="#dce9f6"/><rect x="246.12" y="507.89" width="34.48" height="12.55" fill="#c3dcf0"/><rect x="280.20" y="507.89" width="34.48" height="12.55" fill="#a5cbe8"/><rect x="314.28" y="507.89" width="34.48" height="12.55" fill="#fdcaca"/><rect x="348.36" y="507.89" width="34.48" height="12.55" fill="#fdaaaa"/><rect x="382.44" y="507.89" width="34.48" height="12.55" fill="#fdc8c8"/><rect x="416.52" y="507.89" width="34.48" height="12.55" fill="#fdb0b0"/><rect x="450.60" y="507.89" width="34.48" height="12.55" fill="#fd8c8c"/><rect x="484.68" y="507.89" width="34.48" height="12.55" fill="#fd7070"/><rect x="109.80" y="520.04" width="34.48" height="12.55" fill="#acd0ea"/><rect x="143.88" y="520.04" width="34.48" height="12.55" fill="#acd0ea"/><rect x="177.96" y="520.04" width="34.48" height="12.55" fill="#8ebfe3"/><rect x="212.04" y="520.04" width="34.48" height="12.55" fill="#d5e6f4"/><rect x="246.12" y="520.04" width="34.48" height="12.55" fill="#dce9f6"/><rect x="280.20" y="520.04" width="34.48" height="12.55" fill="#c8def1"/><rect x="314.28" y="520.04" width="34.48" height="12.55" fill="#fda4a4"/><rect x="348.36" y="520.04" width="34.48" height="12.55" fill="#fddcdc"/><rect x="382.44" y="520.04" width="34.48" height="12.55" fill="#eef8fc"/><rect x="416.52" y="520.04" width="34.48" height="12.55" fill="#fd7e7e"/><rect x="450.60" y="520.04" width="34.48" height="12.55" fill="#fd9c9c"/><rect x="484.68" y="520.04" width="34.48" height="12.55" fill="#fd8c8c"/><rect x="109.80" y="532.20" width="34.48" height="12.55" fill="#a8cde8"/><rect x="143.88" y="532.20" width="34.48" height="12.55" fill="#a8cde8"/><rect x="177.96" y="532.20" width="34.48" height="12.55" fill="#c0daef"/><rect x="212.04" y="532.20" width="34.48" height="12.55" fill="#cde1f2"/><rect x="246.12" y="532.20" width="34.48" height="12.55" fill="#cde1f2"/><rect x="280.20" y="532.20" width="34.48" height="12.55" fill="#a5cbe8"/><rect x="314.28" y="532.20" width="34.48" height="12.55" fill="#fff0f0"/><rect x="348.36" y="532.20" width="34.48" height="12.55" fill="#fddada"/><rect x="382.44" y="532.20" width="34.48" height="12.55" fill="#fff0f0"/><rect x="416.52" y="532.20" width="34.48" height="12.55" fill="#fd8a8a"/><rect x="450.60" y="532.20" width="34.48" height="12.55" fill="#fd7474"/><rect x="484.68" y="532.20" width="34.48" height="12.55" fill="#fd7272"/><rect x="109.80" y="544.36" width="34.48" height="12.55" fill="#a5cbe8"/><rect x="143.88" y="544.36" width="34.48" height="12.55" fill="#92c0e3"/><rect x="177.96" y="544.36" width="34.48" height="12.55" fill="#a0c8e6"/><rect x="212.04" y="544.36" width="34.48" height="12.55" fill="#cde1f2"/><rect x="246.12" y="544.36" width="34.48" height="12.55" fill="#d5e6f4"/><rect x="280.20" y="544.36" width="34.48" height="12.55" fill="#e6f0f9"/><rect x="314.28" y="544.36" width="34.48" height="12.55" fill="#fde6e6"/><rect x="348.36" y="544.36" width="34.48" height="12.55" fill="#ffeded"/><rect x="382.44" y="544.36" width="34.48" height="12.55" fill="#fdd8d8"/><rect x="416.52" y="544.36" width="34.48" height="12.55" fill="#fd7474"/><rect x="450.60" y="544.36" width="34.48" height="12.55" fill="#fd7a7a"/><rect x="484.68" y="544.36" width="34.48" height="12.55" fill="#fd8e8e"/></g>
<path d="M100.55 76.39L109.20 76.39M100.55 88.54L109.20 88.54M100.55 76.39L100.55 88.54M91.20 64.23L109.20 64.23M91.20 82.47L100.55 82.47M91.20 64.23L91.20 82.47M81.85 52.08L109.20 52.08M81.85 73.35L91.20 73.35M81.85 52.08L81.85 73.35M100.55 100.70L109.20 100.70M100.55 112.85L109.20 112.85M100.55 100.70L100.55 112.85M72.50 62.71L81.85 62.71M72.50 106.77L100.55 106.77M72.50 62.71L72.50 106.77M100.55 149.32L109.20 149.32M100.55 161.47L109.20 161.47M100.55 149.32L100.55 161.47M91.20 137.16L109.20 137.16M91.20 155.39L100.55 155.39M91.20 137.16L91.20 155.39M81.85 125.01L109.20 125.01M81.85 146.28L91.20 146.28M81.85 125.01L81.85 146.28M100.55 173.63L109.20 173.63M100.55 185.78L109.20 185.78M100.55 173.63L100.55 185.78M100.55 197.94L109.20 197.94M100.55 210.09L109.20 210.09M100.55 197.94L100.55 210.09M100.55 222.25L109.20 222.25M100.55 234.40L109.20 234.40M100.55 222.25L100.55 234.40M100.55 270.87L109.20 270.87M100.55 283.02L109.20 283.02M100.55 270.87L100.55 283.02M91.20 258.71L109.20 258.71M91.20 276.94L100.55 276.94M91.20 258.71L91.20 276.94M100.55 307.33L109.20 307.33M100.55 319.49L109.20 319.49M100.55 307.33L100.55 319.49M91.20 295.18L109.20 295.18M91.20 313.41L100.55 313.41M91.20 295.18L91.20 313.41M81.85 267.83L91.20 267.83M81.85 304.29L91.20 304.29M81.85 267.83L81.85 304.29M72.50 246.56L109.20 246.56M72.50 286.06L81.85 286.06M72.50 246.56L72.50 286.06M63.15 228.32L100.55 228.32M63.15 266.31L72.50 266.31M63.15 228.32L63.15 266.31M53.80 204.01L100.55 204.01M53.80 247.32L63.15 247.32M53.80 204.01L53.80 247.32M100.55 331.64L109.20 331.64M100.55 343.80L109.20 343.80M100.55 331.64L100.55 343.80M44.45 225.67L53.80 225.67M44.45 337.72L100.55 337.72M44.45 225.67L44.45 337.72M35.10 179.70L100.55 179.70M35.10 281.69L44.45 281.69M35.10 179.70L35.10 281.69M100.55 392.42L109.20 392.42M100.55 404.57L109.20 404.57M100.55 392.42L100.55 404.57M91.20 380.26L109.20 380.26M91.20 398.50L100.55 398.50M91.20 380.26L91.20 398.50M81.85 368.11L109.20 368.11M81.85 389.38L91.20 389.38M81.85 368.11L81.85 389.38M100.55 428.88L109.20 428.88M100.55 441.04L109.20 441.04M100.55 428.88L100.55 441.04M91.20 416.73L109.20 416.73M91.20 434.96L100.55 434.96M91.20 416.73L91.20 434.96M72.50 378.74L81.85 378.74M72.50 425.84L91.20 425.84M72.50 378.74L72.50 425.84M100.55 453.19L109.20 453.19M100.55 465.35L109.20 465.35M100.55 453.19L100.55 465.35M63.15 402.29L72.50 402.29M63.15 459.27L100.55 459.27M63.15 402.29L63.15 459.27M100.55 477.50L109.20 477.50M100.55 489.66L109.20 489.66M100.55 477.50L100.55 489.66M100.55 501.81L109.20 501.81M100.55 513.97L109.20 513.97M100.55 501.81L100.55 513.97M100.55 538.28L109.20 538.28M100.55 550.43L109.20 550.43M100.55 538.28L100.55 550.43M91.20 526.12L109.20 526.12M91.20 544.35L100.55 544.35M91.20 526.12L91.20 544.35M81.85 507.89L100.55 507.89M81.85 535.24L91.20 535.24M81.85 507.89L81.85 535.24M72.50 483.58L100.55 483.58M72.50 521.56L81.85 521.56M72.50 483.58L72.50 521.56M53.80 430.78L63.15 430.78M53.80 502.57L72.50 502.57M53.80 430.78L53.80 502.57M44.45 355.95L109.20 355.95M44.45 466.68L53.80 466.68M44.45 355.95L44.45 466.68M25.75 230.70L35.10 230.70M25.75 411.31L44.45 411.31M25.75 230.70L25.75 411.31M16.40 135.64L81.85 135.64M16.40 321.01L25.75 321.01M16.40 135.64L16.40 321.01M7.05 84.74L72.50 84.74M7.05 228.32L16.40 228.32M7.05 84.74L7.05 228.32" stroke="#333" stroke-width="1.4" fill="none" stroke-linecap="square"/>
<g font-family='"Liberation Mono", monospace' font-size="12" fill="#111"><text transform="translate(529.5 55.88) scale(1 1.1)">NOD1</text><text transform="translate(529.5 68.03) scale(1 1.1)">AKT1</text><text transform="translate(529.5 80.19) scale(1 1.1)">HMGB1</text><text transform="translate(529.5 92.34) scale(1 1.1)">CCL2</text><text transform="translate(529.5 104.50) scale(1 1.1)">CCR7</text><text transform="translate(529.5 116.65) scale(1 1.1)">IL1R1</text><text transform="translate(529.5 128.81) scale(1 1.1)">MEFV</text><text transform="translate(529.5 140.96) scale(1 1.1)">CXCL1</text><text transform="translate(529.5 153.12) scale(1 1.1)">ALOX5</text><text transform="translate(529.5 165.27) scale(1 1.1)">LAT</text><text transform="translate(529.5 177.43) scale(1 1.1)">IL6</text><text transform="translate(529.5 189.58) scale(1 1.1)">NFATC4</text><text transform="translate(529.5 201.74) scale(1 1.1)">TGFB1</text><text transform="translate(529.5 213.89) scale(1 1.1)">HDAC9</text><text transform="translate(529.5 226.05) scale(1 1.1)">TICAM1</text><text transform="translate(529.5 238.20) scale(1 1.1)">IL23A</text><text transform="translate(529.5 250.36) scale(1 1.1)">IKBKG</text><text transform="translate(529.5 262.51) scale(1 1.1)">CD44</text><text transform="translate(529.5 274.67) scale(1 1.1)">CXCL8</text><text transform="translate(529.5 286.82) scale(1 1.1)">PTGS2</text><text transform="translate(529.5 298.98) scale(1 1.1)">RELB</text><text transform="translate(529.5 311.13) scale(1 1.1)">HDAC5</text><text transform="translate(529.5 323.29) scale(1 1.1)">CEBPB</text><text transform="translate(529.5 335.44) scale(1 1.1)">IL1RAP</text><text transform="translate(529.5 347.60) scale(1 1.1)">SPHK1</text><text transform="translate(529.5 359.75) scale(1 1.1)">TLR9</text><text transform="translate(529.5 371.91) scale(1 1.1)">CXCL3</text><text transform="translate(529.5 384.06) scale(1 1.1)">CXCL5</text><text transform="translate(529.5 396.22) scale(1 1.1)">CXCL2</text><text transform="translate(529.5 408.37) scale(1 1.1)">IL18</text><text transform="translate(529.5 420.53) scale(1 1.1)">PIK3CD</text><text transform="translate(529.5 432.68) scale(1 1.1)">C5AR1</text><text transform="translate(529.5 444.84) scale(1 1.1)">RIPK2</text><text transform="translate(529.5 456.99) scale(1 1.1)">IFI16</text><text transform="translate(529.5 469.15) scale(1 1.1)">PLA2G4C</text><text transform="translate(529.5 481.30) scale(1 1.1)">FOS</text><text transform="translate(529.5 493.46) scale(1 1.1)">IL15</text><text transform="translate(529.5 505.61) scale(1 1.1)">TNFAIP3</text><text transform="translate(529.5 517.77) scale(1 1.1)">CASP4</text><text transform="translate(529.5 529.92) scale(1 1.1)">IRF5</text><text transform="translate(529.5 542.08) scale(1 1.1)">TLR6</text><text transform="translate(529.5 554.23) scale(1 1.1)">CCL20</text></g>
<g font-family='"Liberation Sans", sans-serif' fill="#111"><text x="127.20" y="580.4" text-anchor="middle" font-size="20" font-weight="bold">1</text><text x="161.20" y="580.4" text-anchor="middle" font-size="20" font-weight="bold">2</text><text x="195.20" y="580.4" text-anchor="middle" font-size="20" font-weight="bold">3</text><rect x="119.85" y="581.7" width="85.3" height="2.1" fill="#111"/><text x="165.60" y="608.2" text-anchor="middle" font-size="20" font-weight="bold" textLength="29.5" lengthAdjust="spacing">NC</text><text x="230.80" y="580.4" text-anchor="middle" font-size="20" font-weight="bold">1</text><text x="264.80" y="580.4" text-anchor="middle" font-size="20" font-weight="bold">2</text><text x="298.80" y="580.4" text-anchor="middle" font-size="20" font-weight="bold">3</text><rect x="222.75" y="581.7" width="85.3" height="2.1" fill="#111"/><text x="266.30" y="608.2" text-anchor="middle" font-size="20" font-weight="bold" textLength="90.2" lengthAdjust="spacing">CT 10 µM</text><text x="330.50" y="580.4" text-anchor="middle" font-size="20" font-weight="bold">1</text><text x="364.50" y="580.4" text-anchor="middle" font-size="20" font-weight="bold">2</text><text x="398.50" y="580.4" text-anchor="middle" font-size="20" font-weight="bold">3</text><rect x="327.15" y="581.7" width="85.3" height="2.1" fill="#111"/><text x="370.40" y="608.2" text-anchor="middle" font-size="20" font-weight="bold" textLength="90.0" lengthAdjust="spacing">CT 15 µM</text><text x="436.30" y="580.4" text-anchor="middle" font-size="20" font-weight="bold">1</text><text x="470.30" y="580.4" text-anchor="middle" font-size="20" font-weight="bold">2</text><text x="504.30" y="580.4" text-anchor="middle" font-size="20" font-weight="bold">3</text><rect x="427.15" y="581.7" width="85.3" height="2.1" fill="#111"/><text x="473.10" y="608.2" text-anchor="middle" font-size="20" font-weight="bold" textLength="89.8" lengthAdjust="spacing">CT 20 µM</text></g>
<defs><linearGradient id="cbA" x1="0" y1="0" x2="0" y2="1"><stop offset="0" stop-color="#ff0000"/><stop offset="0.5" stop-color="#ffffff"/><stop offset="1" stop-color="#1a6fc2"/></linearGradient><linearGradient id="cbC" x1="0" y1="0" x2="0" y2="1"><stop offset="0" stop-color="#ff0000"/><stop offset="0.49" stop-color="#ffffff"/><stop offset="1" stop-color="#1070c8"/></linearGradient></defs>
<rect x="589.6" y="86.8" width="21" height="184.2" fill="url(#cbA)"/>
<path d="M611 86.8V271" stroke="#222" stroke-width="1.2" fill="none"/>
<g font-family='"Liberation Sans", sans-serif' fill="#111"><path d="M611 87.50H616" stroke="#222" stroke-width="1.2"/><text x="618.5" y="91.80" font-size="15">3.0</text><path d="M611 124.10H616" stroke="#222" stroke-width="1.2"/><text x="618.5" y="128.40" font-size="15">1.8</text><path d="M611 160.70H616" stroke="#222" stroke-width="1.2"/><text x="618.5" y="165.00" font-size="15">0.6</text><path d="M611 197.30H616" stroke="#222" stroke-width="1.2"/><text x="618.5" y="201.60" font-size="15">-0.6</text><path d="M611 233.90H616" stroke="#222" stroke-width="1.2"/><text x="618.5" y="238.20" font-size="15">-1.8</text><path d="M611 270.50H616" stroke="#222" stroke-width="1.2"/><text x="618.5" y="274.80" font-size="15">-3.0</text></g>
<text x="585" y="51.8" font-family='"Liberation Sans", sans-serif' font-size="13.5" fill="#111" textLength="80" lengthAdjust="spacingAndGlyphs">TPM z-score</text>
<text x="585" y="69" font-family='"Liberation Sans", sans-serif' font-size="13.5" fill="#111" textLength="44" lengthAdjust="spacingAndGlyphs">by row</text>
<g font-family='"Liberation Sans", sans-serif' font-weight="bold" font-size="29" fill="#000"><text x="6.3" y="22.8" font-size="30">A</text><text x="706" y="23.4">B</text><text x="7.3" y="615.5" font-size="30.5">C</text></g>
<g shape-rendering="crispEdges"><rect x="114.20" y="648.60" width="34.53" height="68.67" fill="#fd4848"/><rect x="148.33" y="648.60" width="34.53" height="68.67" fill="#fc4646"/><rect x="182.46" y="648.60" width="34.53" height="68.67" fill="#fb4848"/><rect x="216.59" y="648.60" width="34.53" height="68.67" fill="#fe3a3a"/><rect x="250.72" y="648.60" width="34.53" height="68.67" fill="#fd3d3d"/><rect x="284.85" y="648.60" width="34.53" height="68.67" fill="#fd4040"/><rect x="318.98" y="648.60" width="34.53" height="68.67" fill="#fb4e4e"/><rect x="353.11" y="648.60" width="34.53" height="68.67" fill="#fb4c4c"/><rect x="387.24" y="648.60" width="34.53" height="68.67" fill="#fb4f4f"/><rect x="421.37" y="648.60" width="34.53" height="68.67" fill="#fb7070"/><rect x="455.50" y="648.60" width="34.53" height="68.67" fill="#fc6666"/><rect x="489.63" y="648.60" width="34.53" height="68.67" fill="#fc6a6a"/><rect x="114.20" y="716.87" width="34.53" height="68.67" fill="#5599d6"/><rect x="148.33" y="716.87" width="34.53" height="68.67" fill="#3b8ccf"/><rect x="182.46" y="716.87" width="34.53" height="68.67" fill="#4894d3"/><rect x="216.59" y="716.87" width="34.53" height="68.67" fill="#4894d3"/><rect x="250.72" y="716.87" width="34.53" height="68.67" fill="#2080cc"/><rect x="284.85" y="716.87" width="34.53" height="68.67" fill="#3a8bd0"/><rect x="318.98" y="716.87" width="34.53" height="68.67" fill="#3f8ed1"/><rect x="353.11" y="716.87" width="34.53" height="68.67" fill="#559dd6"/><rect x="387.24" y="716.87" width="34.53" height="68.67" fill="#559dd6"/><rect x="421.37" y="716.87" width="34.53" height="68.67" fill="#4290d2"/><rect x="455.50" y="716.87" width="34.53" height="68.67" fill="#4692d2"/><rect x="489.63" y="716.87" width="34.53" height="68.67" fill="#3a8bcf"/><rect x="114.20" y="785.14" width="34.53" height="68.67" fill="#1478c8"/><rect x="148.33" y="785.14" width="34.53" height="68.67" fill="#1a7cca"/><rect x="182.46" y="785.14" width="34.53" height="68.67" fill="#3f8ed1"/><rect x="216.59" y="785.14" width="34.53" height="68.67" fill="#2f86ce"/><rect x="250.72" y="785.14" width="34.53" height="68.67" fill="#2080cc"/><rect x="284.85" y="785.14" width="34.53" height="68.67" fill="#4690d2"/><rect x="318.98" y="785.14" width="34.53" height="68.67" fill="#2e86ce"/><rect x="353.11" y="785.14" width="34.53" height="68.67" fill="#1e7ecb"/><rect x="387.24" y="785.14" width="34.53" height="68.67" fill="#2582cc"/><rect x="421.37" y="785.14" width="34.53" height="68.67" fill="#3a8bd0"/><rect x="455.50" y="785.14" width="34.53" height="68.67" fill="#5a9fd7"/><rect x="489.63" y="785.14" width="34.53" height="68.67" fill="#197ac9"/><rect x="114.20" y="853.41" width="34.53" height="68.67" fill="#fefefe"/><rect x="148.33" y="853.41" width="34.53" height="68.67" fill="#feeeec"/><rect x="182.46" y="853.41" width="34.53" height="68.67" fill="#fefefe"/><rect x="216.59" y="853.41" width="34.53" height="68.67" fill="#fdd1d1"/><rect x="250.72" y="853.41" width="34.53" height="68.67" fill="#fdd1d1"/><rect x="284.85" y="853.41" width="34.53" height="68.67" fill="#fddcdc"/><rect x="318.98" y="853.41" width="34.53" height="68.67" fill="#fdcaca"/><rect x="353.11" y="853.41" width="34.53" height="68.67" fill="#fdc8c8"/><rect x="387.24" y="853.41" width="34.53" height="68.67" fill="#fdd7d7"/><rect x="421.37" y="853.41" width="34.53" height="68.67" fill="#fdf5f3"/><rect x="455.50" y="853.41" width="34.53" height="68.67" fill="#fde9e8"/><rect x="489.63" y="853.41" width="34.53" height="68.67" fill="#fdefed"/><rect x="114.20" y="921.68" width="34.53" height="68.67" fill="#5c9fd7"/><rect x="148.33" y="921.68" width="34.53" height="68.67" fill="#74aedb"/><rect x="182.46" y="921.68" width="34.53" height="68.67" fill="#80b4de"/><rect x="216.59" y="921.68" width="34.53" height="68.67" fill="#8abadf"/><rect x="250.72" y="921.68" width="34.53" height="68.67" fill="#8abadf"/><rect x="284.85" y="921.68" width="34.53" height="68.67" fill="#86b8df"/><rect x="318.98" y="921.68" width="34.53" height="68.67" fill="#a8cde8"/><rect x="353.11" y="921.68" width="34.53" height="68.67" fill="#a8cde8"/><rect x="387.24" y="921.68" width="34.53" height="68.67" fill="#cde1f1"/><rect x="421.37" y="921.68" width="34.53" height="68.67" fill="#c8ddf0"/><rect x="455.50" y="921.68" width="34.53" height="68.67" fill="#b3d3ec"/><rect x="489.63" y="921.68" width="34.53" height="68.67" fill="#b5d4ec"/><rect x="114.20" y="989.95" width="34.53" height="68.67" fill="#93c1e3"/><rect x="148.33" y="989.95" width="34.53" height="68.67" fill="#afd0eb"/><rect x="182.46" y="989.95" width="34.53" height="68.67" fill="#a6cbe8"/><rect x="216.59" y="989.95" width="34.53" height="68.67" fill="#b7d5ed"/><rect x="250.72" y="989.95" width="34.53" height="68.67" fill="#a8cde8"/><rect x="284.85" y="989.95" width="34.53" height="68.67" fill="#b0d1ea"/><rect x="318.98" y="989.95" width="34.53" height="68.67" fill="#e2eef8"/><rect x="353.11" y="989.95" width="34.53" height="68.67" fill="#c8def1"/><rect x="387.24" y="989.95" width="34.53" height="68.67" fill="#e8f1fa"/><rect x="421.37" y="989.95" width="34.53" height="68.67" fill="#fefafa"/><rect x="455.50" y="989.95" width="34.53" height="68.67" fill="#fbfbfe"/><rect x="489.63" y="989.95" width="34.53" height="68.67" fill="#fbfbfe"/></g>
<path d="M88.60 751.00L113.60 751.00M88.60 819.27L113.60 819.27M88.60 751.00L88.60 819.27M88.60 955.82L113.60 955.82M88.60 1024.09L113.60 1024.09M88.60 955.82L88.60 1024.09M63.00 887.55L113.60 887.55M63.00 989.95L88.60 989.95M63.00 887.55L63.00 989.95M37.40 785.14L88.60 785.14M37.40 938.75L63.00 938.75M37.40 785.14L37.40 938.75M11.80 682.74L113.60 682.74M11.80 861.94L37.40 861.94M11.80 682.74L11.80 861.94" stroke="#333" stroke-width="1.2" fill="none" stroke-linecap="square"/>
<g font-family='"Liberation Mono", monospace' font-size="12" fill="#111"><text transform="translate(535 687.03) scale(1 1.14)">GSDME</text><text transform="translate(535 755.30) scale(1 1.14)">GSDMA</text><text transform="translate(535 823.57) scale(1 1.14)">GSDMC</text><text transform="translate(535 891.85) scale(1 1.14)">GSDMD</text><text transform="translate(535 960.12) scale(1 1.14)">PJVK</text><text transform="translate(535 1028.38) scale(1 1.14)">GSDMB</text></g>
<g font-family='"Liberation Sans", sans-serif' fill="#111"><text x="136.20" y="1089.5" text-anchor="middle" font-size="18" font-weight="bold">1</text><text x="165.20" y="1089.5" text-anchor="middle" font-size="18" font-weight="bold">2</text><text x="194.20" y="1089.5" text-anchor="middle" font-size="18" font-weight="bold">3</text><rect x="124.25" y="1088.8" width="82.7" height="2.1" fill="#111"/><text x="167.70" y="1116.0" text-anchor="middle" font-size="20" font-weight="bold" textLength="29.5" lengthAdjust="spacing">NC</text><text x="238.50" y="1089.5" text-anchor="middle" font-size="18" font-weight="bold">1</text><text x="267.50" y="1089.5" text-anchor="middle" font-size="18" font-weight="bold">2</text><text x="296.50" y="1089.5" text-anchor="middle" font-size="18" font-weight="bold">3</text><rect x="227.35" y="1088.8" width="82.7" height="2.1" fill="#111"/><text x="266.50" y="1116.0" text-anchor="middle" font-size="20" font-weight="bold" textLength="90.2" lengthAdjust="spacing">CT 10 µM</text><text x="339.30" y="1089.5" text-anchor="middle" font-size="18" font-weight="bold">1</text><text x="368.30" y="1089.5" text-anchor="middle" font-size="18" font-weight="bold">2</text><text x="397.30" y="1089.5" text-anchor="middle" font-size="18" font-weight="bold">3</text><rect x="328.65" y="1088.8" width="82.7" height="2.1" fill="#111"/><text x="371.30" y="1116.0" text-anchor="middle" font-size="20" font-weight="bold" textLength="90.0" lengthAdjust="spacing">CT 15 µM</text><text x="440.90" y="1089.5" text-anchor="middle" font-size="18" font-weight="bold">1</text><text x="469.90" y="1089.5" text-anchor="middle" font-size="18" font-weight="bold">2</text><text x="498.90" y="1089.5" text-anchor="middle" font-size="18" font-weight="bold">3</text><rect x="428.55" y="1088.8" width="82.7" height="2.1" fill="#111"/><text x="472.40" y="1116.0" text-anchor="middle" font-size="20" font-weight="bold" textLength="89.8" lengthAdjust="spacing">CT 20 µM</text></g>
<rect x="580.9" y="690" width="21" height="184.4" fill="url(#cbC)"/>
<path d="M602 690V874.4" stroke="#222" stroke-width="1.2" fill="none"/>
<g font-family='"Liberation Sans", sans-serif' fill="#111"><path d="M602 694.20H607" stroke="#222" stroke-width="1.2"/><text x="609.5" y="700.20" font-size="15">6.8</text><path d="M602 730.24H607" stroke="#222" stroke-width="1.2"/><text x="609.5" y="736.24" font-size="15">5.4</text><path d="M602 766.28H607" stroke="#222" stroke-width="1.2"/><text x="609.5" y="772.28" font-size="15">4.1</text><path d="M602 802.32H607" stroke="#222" stroke-width="1.2"/><text x="609.5" y="808.32" font-size="15">2.7</text><path d="M602 838.36H607" stroke="#222" stroke-width="1.2"/><text x="609.5" y="844.36" font-size="15">1.4</text><path d="M602 874.40H607" stroke="#222" stroke-width="1.2"/><text x="609.5" y="880.40" font-size="15">0.0</text></g>
<text x="581" y="678.6" font-family='"Liberation Sans", sans-serif' font-size="14" fill="#111" textLength="74.5" lengthAdjust="spacingAndGlyphs">log(TPM+1)</text>
<g font-family='"Liberation Sans", sans-serif' fill="#000"><path d="M809.40 295.17V294.23M800.60 294.23H818.20" stroke="#000" stroke-width="1.3" fill="none"/><rect x="793.35" y="296.47" width="32.1" height="3.38" fill="#ffffff" stroke="#000" stroke-width="2.6"/><path d="M809.40 299.85V307.85" stroke="#000" stroke-width="1.6"/><path d="M862.30 294.23V291.88M853.50 291.88H871.10" stroke="#000" stroke-width="1.3" fill="none"/><rect x="846.25" y="295.53" width="32.1" height="4.32" fill="#cccccc" stroke="#000" stroke-width="2.6"/><path d="M862.30 299.85V307.85" stroke="#000" stroke-width="1.6"/><path d="M914.50 284.83V282.48M905.70 282.48H923.30" stroke="#000" stroke-width="1.3" fill="none"/><rect x="898.45" y="286.13" width="32.1" height="13.72" fill="#a0a0a0" stroke="#000" stroke-width="2.6"/><path d="M914.50 299.85V307.85" stroke="#000" stroke-width="1.6"/><path d="M968.00 258.51V253.34M959.20 253.34H976.80" stroke="#000" stroke-width="1.3" fill="none"/><rect x="951.95" y="259.81" width="32.1" height="40.04" fill="#808080" stroke="#000" stroke-width="2.6"/><text x="969.50" y="254.34" text-anchor="middle" font-size="22" font-weight="bold">**</text><path d="M968.00 299.85V307.85" stroke="#000" stroke-width="1.6"/><path d="M1020.80 172.03V153.23M1012.00 153.23H1029.60" stroke="#000" stroke-width="1.3" fill="none"/><rect x="1004.75" y="173.33" width="32.1" height="126.52" fill="#000000" stroke="#000" stroke-width="2.6"/><text x="1022.30" y="154.23" text-anchor="middle" font-size="22" font-weight="bold">***</text><path d="M1020.80 299.85V307.85" stroke="#000" stroke-width="1.6"/><path d="M773.90 110.05V299.85H1056.3" stroke="#000" stroke-width="2" fill="none"/><path d="M766.40 299.85H773.90" stroke="#000" stroke-width="2"/><text x="762.60" y="310.75" text-anchor="end" font-size="19.5" font-weight="bold">0</text><path d="M766.40 252.65H773.90" stroke="#000" stroke-width="2"/><text x="762.60" y="263.30" text-anchor="end" font-size="19.5" font-weight="bold">10</text><path d="M766.40 205.45H773.90" stroke="#000" stroke-width="2"/><text x="762.60" y="215.85" text-anchor="end" font-size="19.5" font-weight="bold">20</text><path d="M766.40 158.25H773.90" stroke="#000" stroke-width="2"/><text x="762.60" y="168.40" text-anchor="end" font-size="19.5" font-weight="bold">30</text><path d="M766.40 111.05H773.90" stroke="#000" stroke-width="2"/><text x="762.60" y="120.95" text-anchor="end" font-size="19.5" font-weight="bold">40</text><text x="810.40" y="329.05" text-anchor="middle" font-size="19.5" font-weight="bold">0</text><text x="863.30" y="329.05" text-anchor="middle" font-size="19.5" font-weight="bold">10</text><text x="915.50" y="329.05" text-anchor="middle" font-size="19.5" font-weight="bold">15</text><text x="969.00" y="329.05" text-anchor="middle" font-size="19.5" font-weight="bold">20</text><text x="1021.80" y="329.05" text-anchor="middle" font-size="19.5" font-weight="bold">25</text><text x="816" y="348.65" font-size="19.5" font-weight="bold" textLength="216" lengthAdjust="spacing">CT concentration (µM)</text><text transform="translate(729.8 326.70) rotate(-90)" font-size="19.5" font-weight="bold" textLength="268.3" lengthAdjust="spacing">Relative <tspan font-style="italic">IL-6/GAPDH</tspan> mRNA</text></g>
<g font-family='"Liberation Sans", sans-serif' fill="#000"><path d="M807.70 531.11V524.55M798.90 524.55H816.50" stroke="#000" stroke-width="1.3" fill="none"/><rect x="791.65" y="532.41" width="32.1" height="93.19" fill="#ffffff" stroke="#000" stroke-width="2.6"/><path d="M807.70 625.60V633.60" stroke="#000" stroke-width="1.6"/><path d="M860.80 547.78V538.88M852.00 538.88H869.60" stroke="#000" stroke-width="1.3" fill="none"/><rect x="844.75" y="549.08" width="32.1" height="76.52" fill="#cccccc" stroke="#000" stroke-width="2.6"/><text x="862.80" y="539.18" text-anchor="middle" font-size="22" font-weight="bold">*</text><path d="M860.80 625.60V633.60" stroke="#000" stroke-width="1.6"/><path d="M914.00 549.93V543.84M905.20 543.84H922.80" stroke="#000" stroke-width="1.3" fill="none"/><rect x="897.95" y="551.23" width="32.1" height="74.37" fill="#a0a0a0" stroke="#000" stroke-width="2.6"/><text x="916.00" y="544.14" text-anchor="middle" font-size="22" font-weight="bold">**</text><path d="M914.00 625.60V633.60" stroke="#000" stroke-width="1.6"/><path d="M967.30 520.24V516.03M958.50 516.03H976.10" stroke="#000" stroke-width="1.3" fill="none"/><rect x="951.25" y="521.54" width="32.1" height="104.06" fill="#808080" stroke="#000" stroke-width="2.6"/><path d="M967.30 625.60V633.60" stroke="#000" stroke-width="1.6"/><path d="M1020.70 488.12V484.94M1011.90 484.94H1029.50" stroke="#000" stroke-width="1.3" fill="none"/><rect x="1004.65" y="489.42" width="32.1" height="136.18" fill="#000000" stroke="#000" stroke-width="2.6"/><text x="1022.70" y="485.24" text-anchor="middle" font-size="22" font-weight="bold">**</text><path d="M1020.70 625.60V633.60" stroke="#000" stroke-width="1.6"/><path d="M772.90 437.30V625.60H1056.3" stroke="#000" stroke-width="2" fill="none"/><path d="M765.40 625.60H772.90" stroke="#000" stroke-width="2"/><text x="761.60" y="634.50" text-anchor="end" font-size="19.5" font-weight="bold">0</text><path d="M765.40 578.77H772.90" stroke="#000" stroke-width="2"/><text x="761.60" y="587.12" text-anchor="end" font-size="19.5" font-weight="bold">0.5</text><path d="M765.40 531.95H772.90" stroke="#000" stroke-width="2"/><text x="761.60" y="539.75" text-anchor="end" font-size="19.5" font-weight="bold">1</text><path d="M765.40 485.12H772.90" stroke="#000" stroke-width="2"/><text x="761.60" y="492.38" text-anchor="end" font-size="19.5" font-weight="bold">1.5</text><path d="M765.40 438.30H772.90" stroke="#000" stroke-width="2"/><text x="761.60" y="445.00" text-anchor="end" font-size="19.5" font-weight="bold">2</text><text x="808.70" y="654.80" text-anchor="middle" font-size="19.5" font-weight="bold">0</text><text x="861.80" y="654.80" text-anchor="middle" font-size="19.5" font-weight="bold">10</text><text x="915.00" y="654.80" text-anchor="middle" font-size="19.5" font-weight="bold">15</text><text x="968.30" y="654.80" text-anchor="middle" font-size="19.5" font-weight="bold">20</text><text x="1021.70" y="654.80" text-anchor="middle" font-size="19.5" font-weight="bold">25</text><text x="816" y="674.40" font-size="19.5" font-weight="bold" textLength="216" lengthAdjust="spacing">CT concentration (µM)</text><text transform="translate(730.3 667.10) rotate(-90)" font-size="19.5" font-weight="bold" textLength="278.8" lengthAdjust="spacing">Relative <tspan font-style="italic">IL-15/GAPDH</tspan> mRNA</text></g>
<g font-family='"Liberation Sans", sans-serif' fill="#000"><path d="M810.50 898.49V890.28M801.70 890.28H819.30" stroke="#000" stroke-width="1.3" fill="none"/><rect x="794.45" y="899.79" width="32.1" height="73.71" fill="#ffffff" stroke="#000" stroke-width="2.6"/><path d="M810.50 973.50V981.50" stroke="#000" stroke-width="1.6"/><path d="M863.40 890.28V886.52M854.60 886.52H872.20" stroke="#000" stroke-width="1.3" fill="none"/><rect x="847.35" y="891.58" width="32.1" height="81.92" fill="#cccccc" stroke="#000" stroke-width="2.6"/><path d="M863.40 973.50V981.50" stroke="#000" stroke-width="1.6"/><path d="M916.90 854.24V852.74M908.10 852.74H925.70" stroke="#000" stroke-width="1.3" fill="none"/><rect x="900.85" y="855.54" width="32.1" height="117.96" fill="#a0a0a0" stroke="#000" stroke-width="2.6"/><text x="918.40" y="854.54" text-anchor="middle" font-size="22" font-weight="bold">***</text><path d="M916.90 973.50V981.50" stroke="#000" stroke-width="1.6"/><path d="M969.80 839.27V829.49M961.00 829.49H978.60" stroke="#000" stroke-width="1.3" fill="none"/><rect x="953.75" y="840.57" width="32.1" height="132.93" fill="#808080" stroke="#000" stroke-width="2.6"/><text x="971.30" y="831.29" text-anchor="middle" font-size="22" font-weight="bold">***</text><path d="M969.80 973.50V981.50" stroke="#000" stroke-width="1.6"/><path d="M1022.60 822.72V816.02M1013.80 816.02H1031.40" stroke="#000" stroke-width="1.3" fill="none"/><rect x="1006.55" y="824.02" width="32.1" height="149.48" fill="#000000" stroke="#000" stroke-width="2.6"/><text x="1024.10" y="817.82" text-anchor="middle" font-size="22" font-weight="bold">***</text><path d="M1022.60 973.50V981.50" stroke="#000" stroke-width="1.6"/><path d="M775.60 784.40V973.50H1058.5" stroke="#000" stroke-width="2" fill="none"/><path d="M768.10 973.50H775.60" stroke="#000" stroke-width="2"/><text x="764.30" y="984.80" text-anchor="end" font-size="19.5" font-weight="bold">0</text><path d="M768.10 935.88H775.60" stroke="#000" stroke-width="2"/><text x="764.30" y="946.34" text-anchor="end" font-size="19.5" font-weight="bold">0.5</text><path d="M768.10 898.26H775.60" stroke="#000" stroke-width="2"/><text x="764.30" y="907.88" text-anchor="end" font-size="19.5" font-weight="bold">1</text><path d="M768.10 860.64H775.60" stroke="#000" stroke-width="2"/><text x="764.30" y="869.42" text-anchor="end" font-size="19.5" font-weight="bold">1.5</text><path d="M768.10 823.02H775.60" stroke="#000" stroke-width="2"/><text x="764.30" y="830.96" text-anchor="end" font-size="19.5" font-weight="bold">2</text><path d="M768.10 785.40H775.60" stroke="#000" stroke-width="2"/><text x="764.30" y="792.50" text-anchor="end" font-size="19.5" font-weight="bold">2.5</text><text x="812.50" y="1004.00" text-anchor="middle" font-size="19.5" font-weight="bold">0</text><text x="865.40" y="1004.00" text-anchor="middle" font-size="19.5" font-weight="bold">10</text><text x="918.90" y="1004.00" text-anchor="middle" font-size="19.5" font-weight="bold">15</text><text x="971.80" y="1004.00" text-anchor="middle" font-size="19.5" font-weight="bold">20</text><text x="1024.60" y="1004.00" text-anchor="middle" font-size="19.5" font-weight="bold">25</text><text x="820" y="1024.10" font-size="19.5" font-weight="bold" textLength="216" lengthAdjust="spacing">CT concentration (µM)</text><text transform="translate(730.5 1026.30) rotate(-90)" font-size="19.5" font-weight="bold" textLength="278.8" lengthAdjust="spacing">Relative <tspan font-style="italic">IL-18/GAPDH</tspan> mRNA</text></g>
</svg></body></html>
